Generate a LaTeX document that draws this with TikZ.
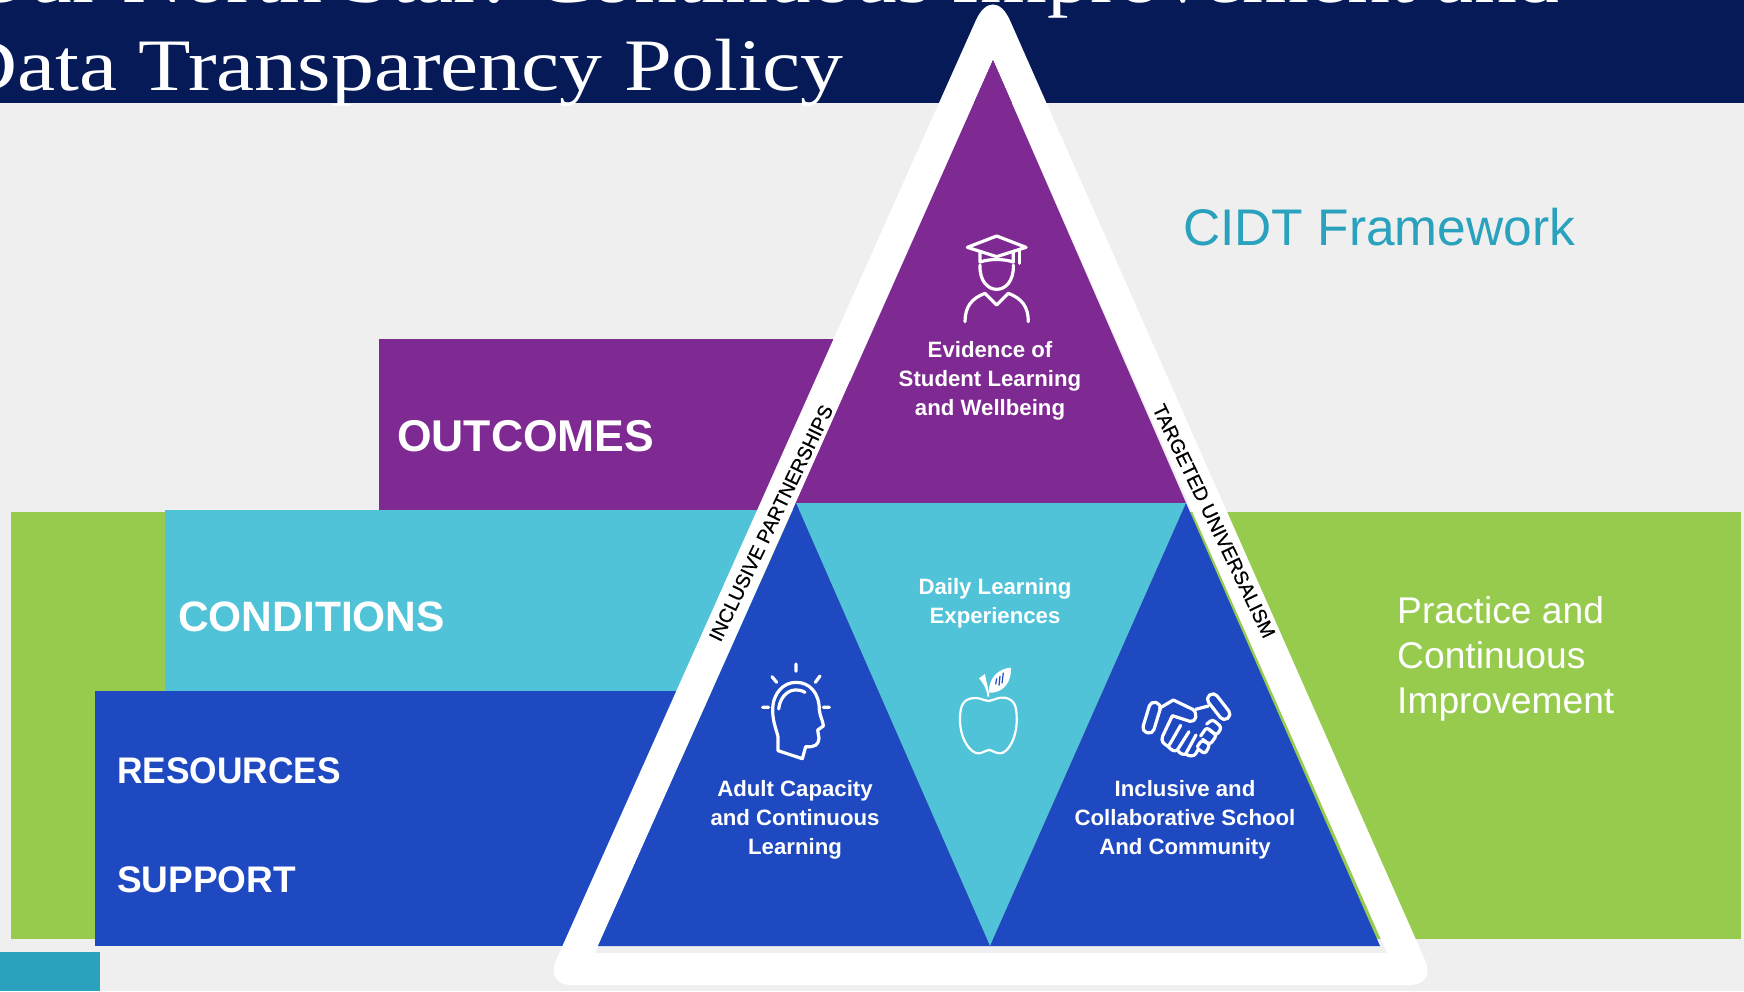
\documentclass[tikz,border=0pt]{standalone}
\usepackage{fontspec}
\setmainfont{Liberation Sans}
\newfontfamily\titlefont[FakeStretch=1.16]{Liberation Serif}
\newfontfamily\edgefont[FakeBold=0.4]{Liberation Sans}
\usetikzlibrary{positioning}

\definecolor{navyhead}{HTML}{051A56}
\definecolor{pagegrey}{HTML}{EFEFEF}
\definecolor{purpleband}{HTML}{7F2A92}
\definecolor{cyanband}{HTML}{50C3D9}
\definecolor{blueband}{HTML}{1E49C1}
\definecolor{greenband}{HTML}{97CB4E}
\definecolor{tealtext}{HTML}{2AA2BE}

\begin{document}
\begin{tikzpicture}[x=1pt,y=-1pt,
        bandlabel/.style={anchor=west,inner sep=0pt,text=white,font=\bfseries},
        tlabel/.style={align=center,inner sep=0pt,text=white,font=\fontsize{22.2}{29}\selectfont\bfseries},
        edgelabel/.style={inner sep=0pt,text=black,font=\edgefont\fontsize{19.6}{19.6}\selectfont},
        titleline/.style={inner sep=0pt,text=white,font=\titlefont\fontsize{74}{74}\selectfont},
        iconline/.style={draw=white,line width=3.2pt,line cap=round,line join=round,fill=none}]
  \useasboundingbox (0,0) rectangle (1744,991);
  \clip (0,0) rectangle (1744,991);
  \fill[pagegrey] (0,0) rectangle (1744,991);
  \fill[navyhead] (0,0) rectangle (1744,103);
  \fill[tealtext] (0,952) rectangle (100,991);

  % bands behind the frame
  \fill[greenband] (11,512) rectangle (1741,939);
  \fill[purpleband] (379,339) rectangle (850,510);
  \fill[cyanband] (165,510) rectangle (760,691);
  \fill[blueband] (95,691) rectangle (680,946);

  \node[titleline,anchor=base east] (titletop) at (1560,2) {Our North Star: Continuous Improvement and};
  \node[titleline,anchor=base west] (titlebottom) at (-45,90) {Data Transparency Policy};

  % frame, with a hole the triangles nearly fill
  \coordinate (holetop) at (993,60);
  \coordinate (holeleft) at (595,953);
  \coordinate (holeright) at (1387,953);
  \fill[white,even odd rule] (993,985) [rounded corners=26pt] -- (545,985)
        [rounded corners=42pt] -- (993,-18) [rounded corners=26pt] -- (1436,985) [sharp corners] -- cycle
        (holetop) -- (holeleft) -- (holeright) -- cycle;

  \coordinate (pl) at (796,503);
  \coordinate (pr) at (1186,503);
  \coordinate (bl) at (598,946);
  \coordinate (bm) at (990,946);
  \coordinate (br) at (1380,946);
  \fill[purpleband] (holetop) -- (pl) -- (pr) -- cycle;
  \fill[cyanband] (pl) -- (pr) -- (bm) -- cycle;
  \fill[blueband] (pl) -- (bl) -- (bm) -- cycle;
  \fill[blueband] (pr) -- (bm) -- (br) -- cycle;

  \node[edgelabel,rotate=64.2] (partners) at (771,523) {INCLUSIVE PARTNERSHIPS};
  \node[edgelabel,rotate=-64.2] (universal) at (1214,521) {TARGETED UNIVERSALISM};

  \node[bandlabel,font=\fontsize{44.5}{44.5}\selectfont\bfseries] (outcomes) at (397,436) {OUTCOMES};
  \node[bandlabel,font=\fontsize{42.5}{42.5}\selectfont\bfseries] (conditions) at (178,617) {CONDITIONS};
  \node[bandlabel,font=\fontsize{37}{37}\selectfont\bfseries,xscale=0.955] (resources) at (117,771) {RESOURCES};
  \node[bandlabel,font=\fontsize{37}{37}\selectfont\bfseries] (support) at (117,880) {SUPPORT};

  \node[tlabel] (evidence) at (990,381) {Evidence of\\Student Learning\\and Wellbeing};
  \node[tlabel] (daily) at (995,603) {Daily Learning\\Experiences};
  \node[tlabel] (adult) at (795,820) {Adult Capacity\\and Continuous\\Learning};
  \node[tlabel] (inclusive) at (1185,820) {Inclusive and\\Collaborative School\\And Community};

  \node[anchor=west,inner sep=0pt,text=tealtext,font=\fontsize{51.5}{51.5}\selectfont] (cidt) at (1183,227) {CIDT Framework};
  \node[anchor=west,align=left,inner sep=0pt,text=white,font=\fontsize{37.2}{45}\selectfont] (practice) at (1397,659) {Practice and\\Continuous\\Improvement};

  % graduate
  \begin{scope}[shift={(900,210)},scale=1/3]
    \draw[iconline] (290,78) -- (378,112) -- (290,140) -- (202,112) -- cycle;
    \draw[iconline] (240,125) -- (240,156) .. controls (270,146) and (310,146) .. (340,156) -- (340,125);
    \draw[iconline] (358,120) -- (358,160);
    \draw[iconline] (240,165) .. controls (238,215) and (265,238) .. (290,238) .. controls (315,238) and (342,215) .. (340,165);
    \draw[iconline] (195,335) .. controls (195,290) and (215,265) .. (255,250) -- (290,285) -- (325,250) .. controls (365,265) and (385,290) .. (385,335);
  \end{scope}
  % head
  \begin{scope}[shift={(740,650)},scale=1/3]
    \draw[iconline] (168,42) -- (168,64) (96,80) -- (110,97) (240,78) -- (226,97) (68,172) -- (86,172) (250,172) -- (268,172);
    \draw[iconline] (114,302) -- (114,260) .. controls (108,235) and (98,215) .. (98,180) .. controls (98,130) and (130,97) .. (168,97)
        .. controls (210,97) and (238,130) .. (238,180) .. controls (240,200) and (250,215) .. (250,228) -- (233,240) -- (237,265)
        .. controls (235,285) and (225,292) .. (197,290) -- (187,326) -- cycle;
    \draw[iconline] (116,177) .. controls (120,135) and (155,105) .. (195,127);
  \end{scope}
  % apple
  \begin{scope}[shift={(740,650)},scale=1/3]
    \draw[iconline,line width=2.2pt] (745,153) .. controls (725,150) and (715,140) .. (695,145) .. controls (665,150) and (660,175) .. (660,210)
        .. controls (660,265) and (690,310) .. (715,310) .. controls (730,310) and (735,300) .. (746,300)
        .. controls (757,300) and (765,310) .. (780,310) .. controls (805,310) and (832,260) .. (830,205)
        .. controls (830,170) and (825,150) .. (795,143) .. controls (775,140) and (765,150) .. (745,153) -- cycle;
    \fill[white] (747,128) .. controls (745,85) and (775,55) .. (813,53) .. controls (815,90) and (795,130) .. (747,128) -- cycle;
    \fill[white] (748,140) -- (742,140) .. controls (740,115) and (730,100) .. (717,85) -- (735,72) .. controls (738,95) and (745,110) .. (748,140) -- cycle;
    \draw[blueband,line width=1.2pt] (767,103) -- (770,85) (777,107) -- (780,78) (786,100) -- (790,68);
  \end{scope}
  % handshake
  \begin{scope}[shift={(740,650)},scale=1/3]
    \draw[iconline,rounded corners=5pt,rotate around={-17:(1235,203)}] (1218,156) rectangle (1252,250);
    \draw[iconline,rounded corners=5pt,rotate around={38:(1436,170)}] (1420,126) rectangle (1452,214);
    \draw[iconline] (1258,175) -- (1300,150) -- (1358,178) .. controls (1375,190) and (1368,218) .. (1350,214) -- (1297,197) -- (1268,258)
        .. controls (1262,275) and (1270,280) .. (1285,290) -- (1322,226);
    \draw[iconline] (1285,290) .. controls (1295,302) and (1303,305) .. (1312,300) -- (1347,245);
    \draw[iconline] (1312,300) .. controls (1320,312) and (1330,315) .. (1337,312) -- (1368,255);
    \draw[iconline] (1337,312) .. controls (1348,320) and (1362,320) .. (1368,310) -- (1375,297);
    \draw[iconline] (1367,178) -- (1405,168);
    \draw[iconline,rounded corners=3pt] (1400,222) -- (1418,208) -- (1445,232) -- (1430,256) -- (1408,240);
    \draw[iconline,rounded corners=3pt] (1382,258) -- (1400,232) -- (1430,256) -- (1410,284) -- (1388,268);
    \draw[iconline,rounded corners=3pt] (1372,290) -- (1385,270) -- (1410,284) -- (1395,312) -- (1375,297);
  \end{scope}
\end{tikzpicture}
\end{document}
